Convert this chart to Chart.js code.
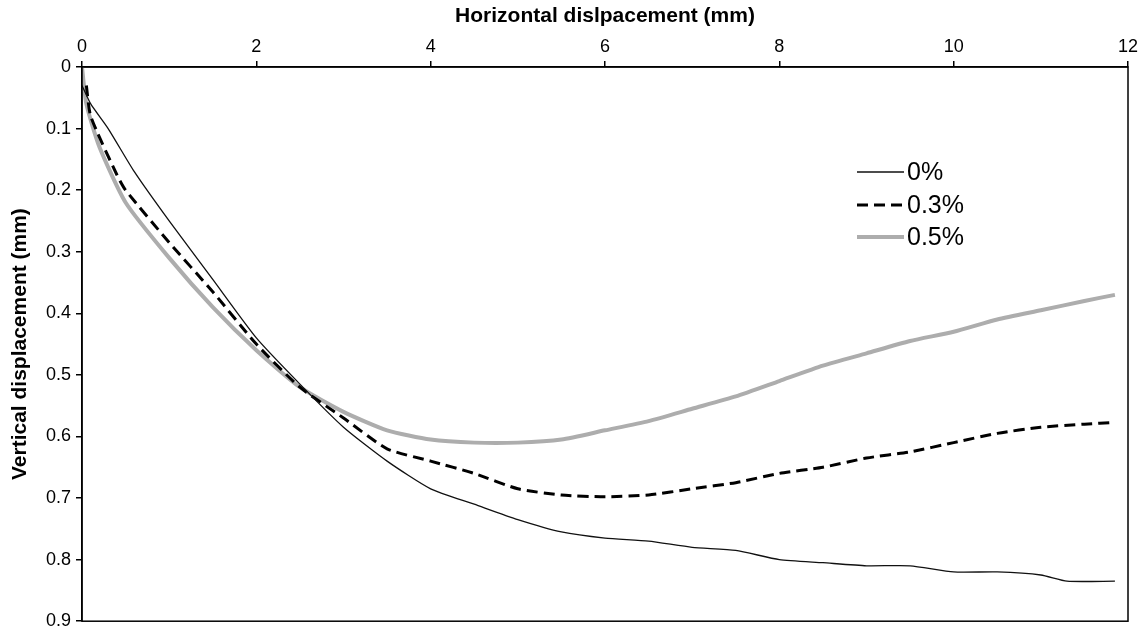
<!DOCTYPE html>
<html>
<head>
<meta charset="utf-8">
<script src="https://cdn.jsdelivr.net/npm/chart.js@4"></script>
<style>
  html, body { margin: 0; padding: 0; background: #fff; }
  #wrap { width: 1145px; height: 637px; }
</style>
</head>
<body>
<div id="wrap"><canvas id="c" width="1145" height="637"></canvas></div>
<script>
// horizontal displacement (mm) and vertical displacement (mm) per series
var x0 = [0, 0.1, 0.3, 0.6, 1.0, 1.5, 2.0, 2.5, 3.0, 3.5, 4.0, 4.5, 5.0, 5.5, 6.0, 6.5, 7.0, 7.5, 8.0, 8.5, 9.0, 9.5, 10.0, 10.5, 11.0, 11.3, 11.85]
var y0 = [0.03, 0.06, 0.10, 0.17, 0.25, 0.345, 0.44, 0.515, 0.585, 0.64, 0.685, 0.71, 0.735, 0.755, 0.765, 0.77, 0.78, 0.785, 0.80, 0.805, 0.81, 0.81, 0.82, 0.82, 0.825, 0.835, 0.835]

var x3 = [0.05, 0.1, 0.4, 0.5, 1.0, 1.5, 2.0, 2.5, 3.0, 3.5, 4.0, 4.5, 5.0, 5.5, 6.0, 6.5, 7.0, 7.5, 8.0, 8.5, 9.0, 9.5, 10.0, 10.5, 11.0, 11.5, 11.85]
var y3 = [0.03, 0.08, 0.175, 0.20, 0.285, 0.365, 0.45, 0.52, 0.57, 0.62, 0.64, 0.66, 0.685, 0.695, 0.698, 0.695, 0.685, 0.675, 0.66, 0.65, 0.635, 0.625, 0.61, 0.595, 0.585, 0.58, 0.577]

var x5 = [0, 0.05, 0.2, 0.5, 1.0, 1.5, 2.0, 2.5, 3.0, 3.5, 4.0, 4.5, 5.0, 5.5, 6.0, 6.5, 7.0, 7.5, 8.0, 8.5, 9.0, 9.5, 10.0, 10.5, 11.0, 11.5, 11.85]
var y5 = [0.0, 0.06, 0.13, 0.22, 0.31, 0.39, 0.46, 0.52, 0.56, 0.59, 0.605, 0.61, 0.61, 0.605, 0.59, 0.575, 0.555, 0.535, 0.51, 0.485, 0.465, 0.445, 0.43, 0.41, 0.395, 0.38, 0.37]

var names = ['0%', '0.3%', '0.5%']
var xTicks = [0, 2, 4, 6, 8, 10, 12]
var yTicks = [0, 0.1, 0.2, 0.3, 0.4, 0.5, 0.6, 0.7, 0.8, 0.9]

function pts(xs, ys){
    return xs.map(function(v, i){ return {x: v, y: ys[i]} })
}

const fontFam = '"Liberation Sans", Arial, sans-serif'

// box round the plot + legend inside the plot
const frame = {
    id: 'frame',
    afterDraw: function(chart){
        const ctx = chart.ctx
        const a = chart.chartArea
        ctx.save()
        ctx.strokeStyle = '#000'
        ctx.lineWidth = 1.5
        ctx.strokeRect(a.left, a.top, a.right - a.left, a.bottom - a.top)

        ctx.font = '25px ' + fontFam
        ctx.textBaseline = 'middle'
        ctx.fillStyle = '#000'
        var rows = [172, 205, 237]
        chart.data.datasets.forEach(function(ds, i){
            var y = rows[i]
            ctx.beginPath()
            ctx.strokeStyle = ds.borderColor
            ctx.lineWidth = ds.borderWidth
            ctx.setLineDash(ds.borderDash || [])
            ctx.moveTo(857, y)
            ctx.lineTo(904, y)
            ctx.stroke()
            ctx.setLineDash([])
            ctx.fillText(ds.label, 907, y + 1)
        })
        ctx.restore()
    }
}

new Chart(document.getElementById('c'), {
    type: 'line',
    data: {
        datasets: [{
            label: names[0],
            data: pts(x0, y0),
            borderColor: '#111',
            borderWidth: 1.3,
            pointRadius: 0,
            tension: 0.2
        }, {
            label: names[1],
            data: pts(x3, y3),
            borderColor: '#000',
            borderWidth: 3,
            borderDash: [11, 6],
            pointRadius: 0,
            tension: 0.2
        }, {
            label: names[2],
            data: pts(x5, y5),
            borderColor: '#adadad',
            borderWidth: 4,
            pointRadius: 0,
            tension: 0.2
        }]
    },
    options: {
        responsive: false,
        animation: false,
        layout: { padding: { left: 0, top: 0, right: 17, bottom: 12 } },
        scales: {
            x: {
                type: 'linear',
                position: 'top',
                min: 0,
                max: 12,
                afterBuildTicks: function(s){ s.ticks = xTicks.map(function(v){ return {value: v} }) },
                afterFit: function(s){ s.height = 67 },
                grid: { drawOnChartArea: false, drawTicks: true, tickLength: 6, color: '#000', lineWidth: 1.5 },
                border: { display: true, color: '#000', width: 1.5 },
                ticks: { color: '#000', font: { family: fontFam, size: 18 }, padding: 3, maxRotation: 0 },
                title: { display: true, text: 'Horizontal dislpacement (mm)', color: '#000', font: { family: fontFam, size: 21, weight: 'bold' }, padding: { top: 4, bottom: 0 } }
            },
            y: {
                type: 'linear',
                reverse: true,
                min: 0,
                max: 0.9,
                afterBuildTicks: function(s){ s.ticks = yTicks.map(function(v){ return {value: v} }) },
                afterFit: function(s){ s.width = 82 },
                grid: { drawOnChartArea: false, drawTicks: true, tickLength: 6, color: '#000', lineWidth: 1.5 },
                border: { display: true, color: '#000', width: 1.5 },
                ticks: { color: '#000', font: { family: fontFam, size: 18 }, padding: 5,
                    callback: function(v){ return String(Math.round(v * 10) / 10) } },
                title: { display: true, text: 'Vertical displacement (mm)', color: '#000', font: { family: fontFam, size: 21, weight: 'bold' }, padding: { top: 8, bottom: 2 } }
            }
        },
        plugins: {
            legend: { display: false },
            tooltip: { enabled: false }
        }
    },
    plugins: [frame]
})
</script>
</body>
</html>
